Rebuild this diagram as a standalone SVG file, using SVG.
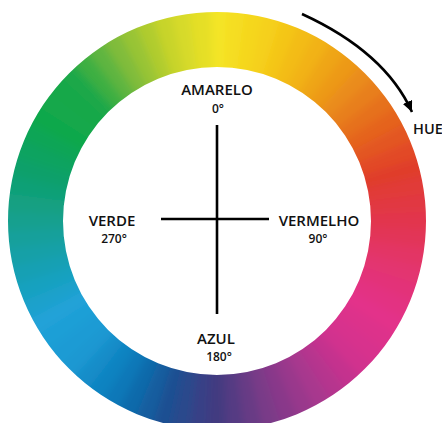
<svg xmlns="http://www.w3.org/2000/svg" width="442" height="423" viewBox="0 0 442 423">
<style>
.s{fill:none;stroke-width:100;stroke-dasharray:5.8 354.2}
.lb{font-family:"Open Sans","Liberation Sans",sans-serif;font-weight:600;font-size:15px;fill:#111;text-anchor:middle}
.dg{font-family:"Open Sans","Liberation Sans",sans-serif;font-weight:600;font-size:12px;fill:#111;text-anchor:middle}
.ln{stroke:#000;stroke-width:2.6;fill:none}
</style>
<defs>
<clipPath id="ring"><path clip-rule="evenodd" d="M8,221 a209,209 0 1,0 418,0 a209,209 0 1,0 -418,0 Z M63,221 a154,154 0 1,0 308,0 a154,154 0 1,0 -308,0 Z"/></clipPath>
<filter id="bl" x="-10%" y="-10%" width="120%" height="120%"><feGaussianBlur stdDeviation="4"/></filter>
<marker id="ah" markerUnits="userSpaceOnUse" markerWidth="12" markerHeight="12" refX="11" refY="5" orient="auto"><path d="M0,0 L11,5 L0,10 Z" fill="#000"/></marker>
</defs>
<rect width="442" height="423" fill="#fff"/>
<g id="wheel" clip-path="url(#ring)">
<g filter="url(#bl)">
<circle class="s" cx="217" cy="221" r="181.5" pathLength="360" stroke="#f4e526" transform="rotate(-92.5 217 221)"/>
<circle class="s" cx="217" cy="221" r="181.5" pathLength="360" stroke="#f5de22" transform="rotate(-87.5 217 221)"/>
<circle class="s" cx="217" cy="221" r="181.5" pathLength="360" stroke="#f5d71e" transform="rotate(-82.5 217 221)"/>
<circle class="s" cx="217" cy="221" r="181.5" pathLength="360" stroke="#f5d01a" transform="rotate(-77.5 217 221)"/>
<circle class="s" cx="217" cy="221" r="181.5" pathLength="360" stroke="#f4c617" transform="rotate(-72.5 217 221)"/>
<circle class="s" cx="217" cy="221" r="181.5" pathLength="360" stroke="#f3bc15" transform="rotate(-67.5 217 221)"/>
<circle class="s" cx="217" cy="221" r="181.5" pathLength="360" stroke="#f2b212" transform="rotate(-62.5 217 221)"/>
<circle class="s" cx="217" cy="221" r="181.5" pathLength="360" stroke="#efa515" transform="rotate(-57.5 217 221)"/>
<circle class="s" cx="217" cy="221" r="181.5" pathLength="360" stroke="#ed9917" transform="rotate(-52.5 217 221)"/>
<circle class="s" cx="217" cy="221" r="181.5" pathLength="360" stroke="#ea8c1a" transform="rotate(-47.5 217 221)"/>
<circle class="s" cx="217" cy="221" r="181.5" pathLength="360" stroke="#e87f1c" transform="rotate(-42.5 217 221)"/>
<circle class="s" cx="217" cy="221" r="181.5" pathLength="360" stroke="#e6711d" transform="rotate(-37.5 217 221)"/>
<circle class="s" cx="217" cy="221" r="181.5" pathLength="360" stroke="#e5641f" transform="rotate(-32.5 217 221)"/>
<circle class="s" cx="217" cy="221" r="181.5" pathLength="360" stroke="#e35723" transform="rotate(-27.5 217 221)"/>
<circle class="s" cx="217" cy="221" r="181.5" pathLength="360" stroke="#e24928" transform="rotate(-22.5 217 221)"/>
<circle class="s" cx="217" cy="221" r="181.5" pathLength="360" stroke="#e03c2c" transform="rotate(-17.5 217 221)"/>
<circle class="s" cx="217" cy="221" r="181.5" pathLength="360" stroke="#e13a37" transform="rotate(-12.5 217 221)"/>
<circle class="s" cx="217" cy="221" r="181.5" pathLength="360" stroke="#e13843" transform="rotate(-7.5 217 221)"/>
<circle class="s" cx="217" cy="221" r="181.5" pathLength="360" stroke="#e2364e" transform="rotate(-2.5 217 221)"/>
<circle class="s" cx="217" cy="221" r="181.5" pathLength="360" stroke="#e23559" transform="rotate(2.5 217 221)"/>
<circle class="s" cx="217" cy="221" r="181.5" pathLength="360" stroke="#e33565" transform="rotate(7.5 217 221)"/>
<circle class="s" cx="217" cy="221" r="181.5" pathLength="360" stroke="#e33470" transform="rotate(12.5 217 221)"/>
<circle class="s" cx="217" cy="221" r="181.5" pathLength="360" stroke="#e33379" transform="rotate(17.5 217 221)"/>
<circle class="s" cx="217" cy="221" r="181.5" pathLength="360" stroke="#e33182" transform="rotate(22.5 217 221)"/>
<circle class="s" cx="217" cy="221" r="181.5" pathLength="360" stroke="#e3308a" transform="rotate(27.5 217 221)"/>
<circle class="s" cx="217" cy="221" r="181.5" pathLength="360" stroke="#dd308b" transform="rotate(32.5 217 221)"/>
<circle class="s" cx="217" cy="221" r="181.5" pathLength="360" stroke="#d8308d" transform="rotate(37.5 217 221)"/>
<circle class="s" cx="217" cy="221" r="181.5" pathLength="360" stroke="#d2308e" transform="rotate(42.5 217 221)"/>
<circle class="s" cx="217" cy="221" r="181.5" pathLength="360" stroke="#c4338e" transform="rotate(47.5 217 221)"/>
<circle class="s" cx="217" cy="221" r="181.5" pathLength="360" stroke="#b6358e" transform="rotate(52.5 217 221)"/>
<circle class="s" cx="217" cy="221" r="181.5" pathLength="360" stroke="#a8388e" transform="rotate(57.5 217 221)"/>
<circle class="s" cx="217" cy="221" r="181.5" pathLength="360" stroke="#99398c" transform="rotate(62.5 217 221)"/>
<circle class="s" cx="217" cy="221" r="181.5" pathLength="360" stroke="#89398a" transform="rotate(67.5 217 221)"/>
<circle class="s" cx="217" cy="221" r="181.5" pathLength="360" stroke="#7a3a88" transform="rotate(72.5 217 221)"/>
<circle class="s" cx="217" cy="221" r="181.5" pathLength="360" stroke="#683a85" transform="rotate(77.5 217 221)"/>
<circle class="s" cx="217" cy="221" r="181.5" pathLength="360" stroke="#553a83" transform="rotate(82.5 217 221)"/>
<circle class="s" cx="217" cy="221" r="181.5" pathLength="360" stroke="#433a80" transform="rotate(87.5 217 221)"/>
<circle class="s" cx="217" cy="221" r="181.5" pathLength="360" stroke="#374186" transform="rotate(92.5 217 221)"/>
<circle class="s" cx="217" cy="221" r="181.5" pathLength="360" stroke="#2b488c" transform="rotate(97.5 217 221)"/>
<circle class="s" cx="217" cy="221" r="181.5" pathLength="360" stroke="#1f4f92" transform="rotate(102.5 217 221)"/>
<circle class="s" cx="217" cy="221" r="181.5" pathLength="360" stroke="#185d9f" transform="rotate(107.5 217 221)"/>
<circle class="s" cx="217" cy="221" r="181.5" pathLength="360" stroke="#116aab" transform="rotate(112.5 217 221)"/>
<circle class="s" cx="217" cy="221" r="181.5" pathLength="360" stroke="#0a78b8" transform="rotate(117.5 217 221)"/>
<circle class="s" cx="217" cy="221" r="181.5" pathLength="360" stroke="#0f83c1" transform="rotate(122.5 217 221)"/>
<circle class="s" cx="217" cy="221" r="181.5" pathLength="360" stroke="#158dc9" transform="rotate(127.5 217 221)"/>
<circle class="s" cx="217" cy="221" r="181.5" pathLength="360" stroke="#1a98d2" transform="rotate(132.5 217 221)"/>
<circle class="s" cx="217" cy="221" r="181.5" pathLength="360" stroke="#1c9bd4" transform="rotate(137.5 217 221)"/>
<circle class="s" cx="217" cy="221" r="181.5" pathLength="360" stroke="#1e9fd6" transform="rotate(142.5 217 221)"/>
<circle class="s" cx="217" cy="221" r="181.5" pathLength="360" stroke="#20a2d8" transform="rotate(147.5 217 221)"/>
<circle class="s" cx="217" cy="221" r="181.5" pathLength="360" stroke="#1ca1cc" transform="rotate(152.5 217 221)"/>
<circle class="s" cx="217" cy="221" r="181.5" pathLength="360" stroke="#18a1c0" transform="rotate(157.5 217 221)"/>
<circle class="s" cx="217" cy="221" r="181.5" pathLength="360" stroke="#14a0b4" transform="rotate(162.5 217 221)"/>
<circle class="s" cx="217" cy="221" r="181.5" pathLength="360" stroke="#14a0a7" transform="rotate(167.5 217 221)"/>
<circle class="s" cx="217" cy="221" r="181.5" pathLength="360" stroke="#14a09b" transform="rotate(172.5 217 221)"/>
<circle class="s" cx="217" cy="221" r="181.5" pathLength="360" stroke="#14a08e" transform="rotate(177.5 217 221)"/>
<circle class="s" cx="217" cy="221" r="181.5" pathLength="360" stroke="#13a082" transform="rotate(182.5 217 221)"/>
<circle class="s" cx="217" cy="221" r="181.5" pathLength="360" stroke="#11a076" transform="rotate(187.5 217 221)"/>
<circle class="s" cx="217" cy="221" r="181.5" pathLength="360" stroke="#10a06a" transform="rotate(192.5 217 221)"/>
<circle class="s" cx="217" cy="221" r="181.5" pathLength="360" stroke="#0fa360" transform="rotate(197.5 217 221)"/>
<circle class="s" cx="217" cy="221" r="181.5" pathLength="360" stroke="#0fa556" transform="rotate(202.5 217 221)"/>
<circle class="s" cx="217" cy="221" r="181.5" pathLength="360" stroke="#0ea84c" transform="rotate(207.5 217 221)"/>
<circle class="s" cx="217" cy="221" r="181.5" pathLength="360" stroke="#12a84b" transform="rotate(212.5 217 221)"/>
<circle class="s" cx="217" cy="221" r="181.5" pathLength="360" stroke="#16a849" transform="rotate(217.5 217 221)"/>
<circle class="s" cx="217" cy="221" r="181.5" pathLength="360" stroke="#1aa848" transform="rotate(222.5 217 221)"/>
<circle class="s" cx="217" cy="221" r="181.5" pathLength="360" stroke="#3caf43" transform="rotate(227.5 217 221)"/>
<circle class="s" cx="217" cy="221" r="181.5" pathLength="360" stroke="#5eb53f" transform="rotate(232.5 217 221)"/>
<circle class="s" cx="217" cy="221" r="181.5" pathLength="360" stroke="#80bc3a" transform="rotate(237.5 217 221)"/>
<circle class="s" cx="217" cy="221" r="181.5" pathLength="360" stroke="#98c435" transform="rotate(242.5 217 221)"/>
<circle class="s" cx="217" cy="221" r="181.5" pathLength="360" stroke="#b0cc2f" transform="rotate(247.5 217 221)"/>
<circle class="s" cx="217" cy="221" r="181.5" pathLength="360" stroke="#c8d42a" transform="rotate(252.5 217 221)"/>
<circle class="s" cx="217" cy="221" r="181.5" pathLength="360" stroke="#d7da29" transform="rotate(257.5 217 221)"/>
<circle class="s" cx="217" cy="221" r="181.5" pathLength="360" stroke="#e5df28" transform="rotate(262.5 217 221)"/>
</g>
</g>
<g id="connectors">
<line class="ln" x1="217" y1="125" x2="217" y2="314"/>
<line class="ln" x1="161" y1="219" x2="269" y2="219"/>
<path class="ln" d="M302,14 Q385,52 412,112" stroke-width="2.2" marker-end="url(#ah)"/>
</g>
<g id="amarelo"><text class="lb" x="217" y="95">AMARELO</text><text class="dg" x="218" y="113">0°</text></g>
<g id="verde"><text class="lb" x="112" y="226">VERDE</text><text class="dg" x="114" y="243">270°</text></g>
<g id="vermelho"><text class="lb" x="319" y="226">VERMELHO</text><text class="dg" x="318" y="243">90°</text></g>
<g id="azul"><text class="lb" x="216" y="344">AZUL</text><text class="dg" x="219" y="361">180°</text></g>
<g id="hue"><text class="lb" x="413" y="133.5" style="text-anchor:start;font-size:14.5px">HUE</text></g>
</svg>
